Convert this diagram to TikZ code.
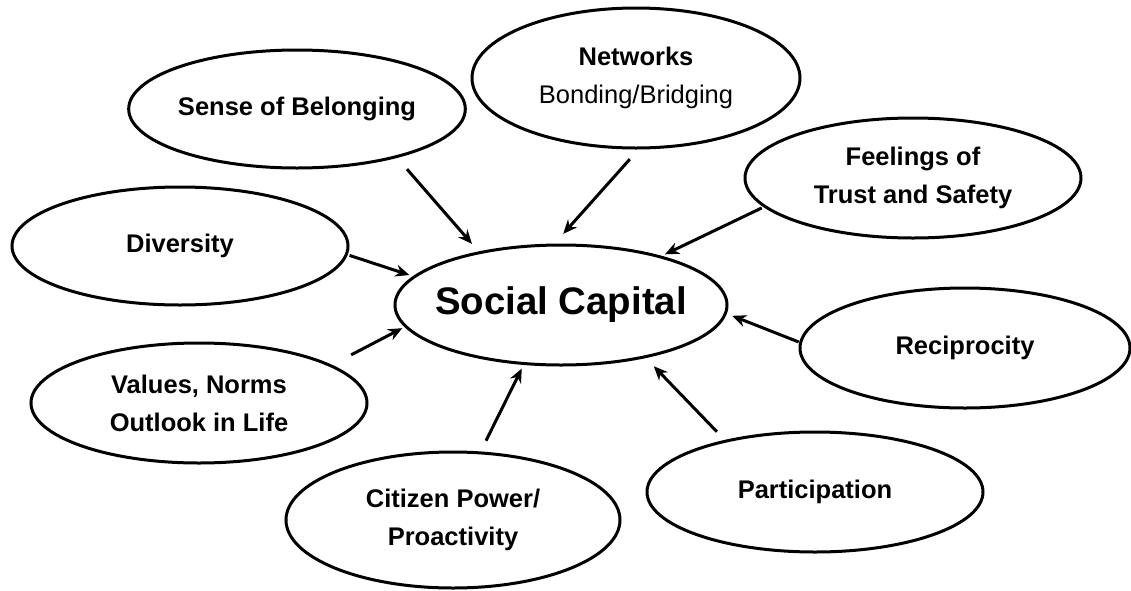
\documentclass[tikz,border=0pt]{standalone}
\usepackage{fontspec}
\setmainfont{Liberation Sans}
\usetikzlibrary{shapes.geometric,arrows.meta}

\begin{document}
\begin{tikzpicture}[x=0.5pt, y=-0.5pt,
    factor/.style={ellipse, draw, line width=1.5pt, inner sep=0pt,
        minimum width=168pt, minimum height=60pt, align=center,
        font=\fontsize{12.75}{19}\selectfont\bfseries},
    hub/.style={factor, minimum width=166pt, inner xsep=-4.5pt,
        font=\fontsize{19.2}{23}\selectfont\bfseries},
    link/.style={->, line width=1.5pt},
    >={Stealth[length=7pt,width=6pt]}]

    \useasboundingbox (0,0) rectangle (1131,590);

    \node[hub] (sc) at (561,305) {Social Capital};
    \node[factor,minimum width=167pt,minimum height=59pt] (belong) at (297,109) {Sense of Belonging};
    \node[factor,minimum width=164pt,minimum height=70pt] (networks) at (636,78) {Networks\\{\mdseries Bonding/Bridging}};
    \node[factor] (feelings) at (913,178) {Feelings of\\Trust and Safety};
    \node[factor,minimum height=59pt] (diversity) at (180,246) {Diversity};
    \node[factor,minimum width=165pt] (recip) at (965,348) {Reciprocity};
    \node[factor] (values) at (199,403) {Values, Norms\\Outlook in Life};
    \node[factor,minimum width=167pt,minimum height=68pt] (citizen) at (453,520) {Citizen Power/\\Proactivity};
    \node[factor] (particip) at (815,492) {Participation};

    \draw[link, shorten <=7.5pt, shorten >=5pt] (belong.-26) -- (sc.147);
    \draw[link, shorten <=6.5pt, shorten >=6.5pt] (networks.-88) -- (sc.96);
    \draw[link, shorten <=1pt, shorten >=1.8pt] (feelings.191) -- (sc.26);
    \draw[link, shorten <=1pt, shorten >=1.9pt] (diversity.-3) -- (sc.169);
    \draw[link, shorten <=10.8pt, shorten >=1.3pt] (values.16) -- (sc.188);
    \draw[link, shorten <=6pt, shorten >=2pt] (citizen.68) -- (sc.238);
    \draw[link, shorten <=5.7pt, shorten >=5.7pt] (particip.150) -- (sc.-32);
    \draw[link, shorten <=0.3pt, shorten >=2.9pt] (recip.178) -- (sc.-3.5);
\end{tikzpicture}
\end{document}
